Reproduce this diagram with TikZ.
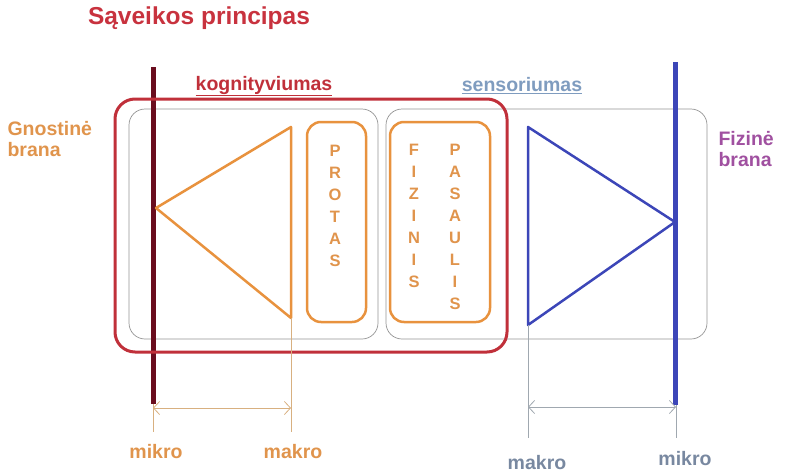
\documentclass[tikz,border=0pt]{standalone}
\usepackage{fontspec}
\setmainfont{Liberation Sans}
\usetikzlibrary{positioning}
\usetikzlibrary{arrows.meta}
\tikzset{>={Straight Barb[length=6pt,width=13pt]}}
\definecolor{titlered}{HTML}{C8323E}
\definecolor{rectred}{HTML}{C0303A}
\definecolor{darkbrane}{HTML}{6A0D1E}
\definecolor{orng}{HTML}{E8923E}
\definecolor{orngtext}{HTML}{E0944C}
\definecolor{blu}{HTML}{3C46B8}
\definecolor{sensblue}{HTML}{7F9CBF}
\definecolor{purp}{HTML}{A050A0}
\definecolor{slate}{HTML}{7888A0}
\definecolor{tan}{HTML}{D8B080}
\definecolor{dimgray}{HTML}{A0A8B0}
\tikzset{
	% branes
	brane/.style={line width=5pt},
	% gray zones
	zone/.style={draw=gray!85,line width=0.7pt,rounded corners=16pt},
	% inner boxes
	wordbox/.style={draw=orng,line width=2.5pt,rounded corners=14pt},
	% letters in columns
	letters/.style={text=orngtext,align=center,font=\bfseries\fontsize{16.5}{22}\selectfont},
	% labels
	lbl/.style={font=\bfseries\fontsize{19.5}{21}\selectfont,align=left},
	dimline/.style={line width=0.8pt},
}

\begin{document}
\begin{tikzpicture}[x=1pt,y=-1pt]
	\useasboundingbox (0,0) rectangle (789,474);
	
	\node[font=\bfseries\fontsize{24.5}{26}\selectfont,text=titlered] (title) at (199,18) {Sąveikos principas};
	
	\draw[zone] (129,109) rectangle (378,339);
	\draw[zone] (386,109) rectangle (707,339);
	
	\draw[brane,darkbrane] (153,67) -- (153,404);
	\draw[rectred,line width=3pt,rounded corners=20pt] (115,99) rectangle (507,352);
	\draw[brane,blu] (675,62) -- (675,405);
	
	\node[lbl,text=rectred] (kog) at (264,86) {\underline{kognityviumas}};
	\node[lbl,text=sensblue] (sens) at (522,86) {\underline{sensoriumas}};
	
	\node[lbl,text=orngtext,anchor=north west] (gnost) at (4,118) {Gnostinė\\brana};
	\node[lbl,text=purp,anchor=north west] (fiz) at (715,128) {Fizinė\\brana};
	
	% triangles
	\coordinate (gApex) at (156,208);
	\coordinate (gTop) at (291,127);
	\coordinate (gBot) at (291,318);
	\draw[orng,line width=2.5pt,line join=round] (gApex) -- (gTop) -- (gBot) -- cycle;
	\coordinate (fTop) at (528,127);
	\coordinate (fApex) at (675,222);
	\coordinate (fBot) at (528,325);
	\draw[blu,line width=2.5pt,line join=round] (fTop) -- (fApex) -- (fBot) -- cycle;
	
	% word boxes
	\draw[wordbox] (307,122) rectangle (366,322);
	\draw[wordbox] (390,122) rectangle (490,322);
	\node[letters] (protas) at (335,206) {P\\R\\O\\T\\A\\S};
	\node[letters] (fizinis) at (414,216) {F\\I\\Z\\I\\N\\I\\S};
	\node[letters] (pasaulis) at (455,227) {P\\A\\S\\A\\U\\L\\I\\S};
	
	% left dimension
	\coordinate (lA) at (153,408);
	\coordinate (lB) at (291,408);
	\draw[tan,dimline] (153,404) -- (153,432);
	\draw[tan,dimline] (gBot) -- (291,432);
	\draw[tan,dimline,<->] (lA) -- (lB);
	\node[lbl,text=orngtext] (mik1) at (156,452) {mikro};
	\node[lbl,text=orngtext] (mak1) at (293,452) {makro};
	
	% right dimension
	\coordinate (rA) at (528,407);
	\coordinate (rB) at (676,407);
	\draw[dimgray,dimline] (fBot) -- (528,438);
	\draw[dimgray,dimline] (676,405) -- (676,438);
	\draw[dimgray,dimline,<->] (rA) -- (rB);
	\node[lbl,text=slate] (mak2) at (537,463) {makro};
	\node[lbl,text=slate] (mik2) at (685,459) {mikro};
\end{tikzpicture}
\end{document}
